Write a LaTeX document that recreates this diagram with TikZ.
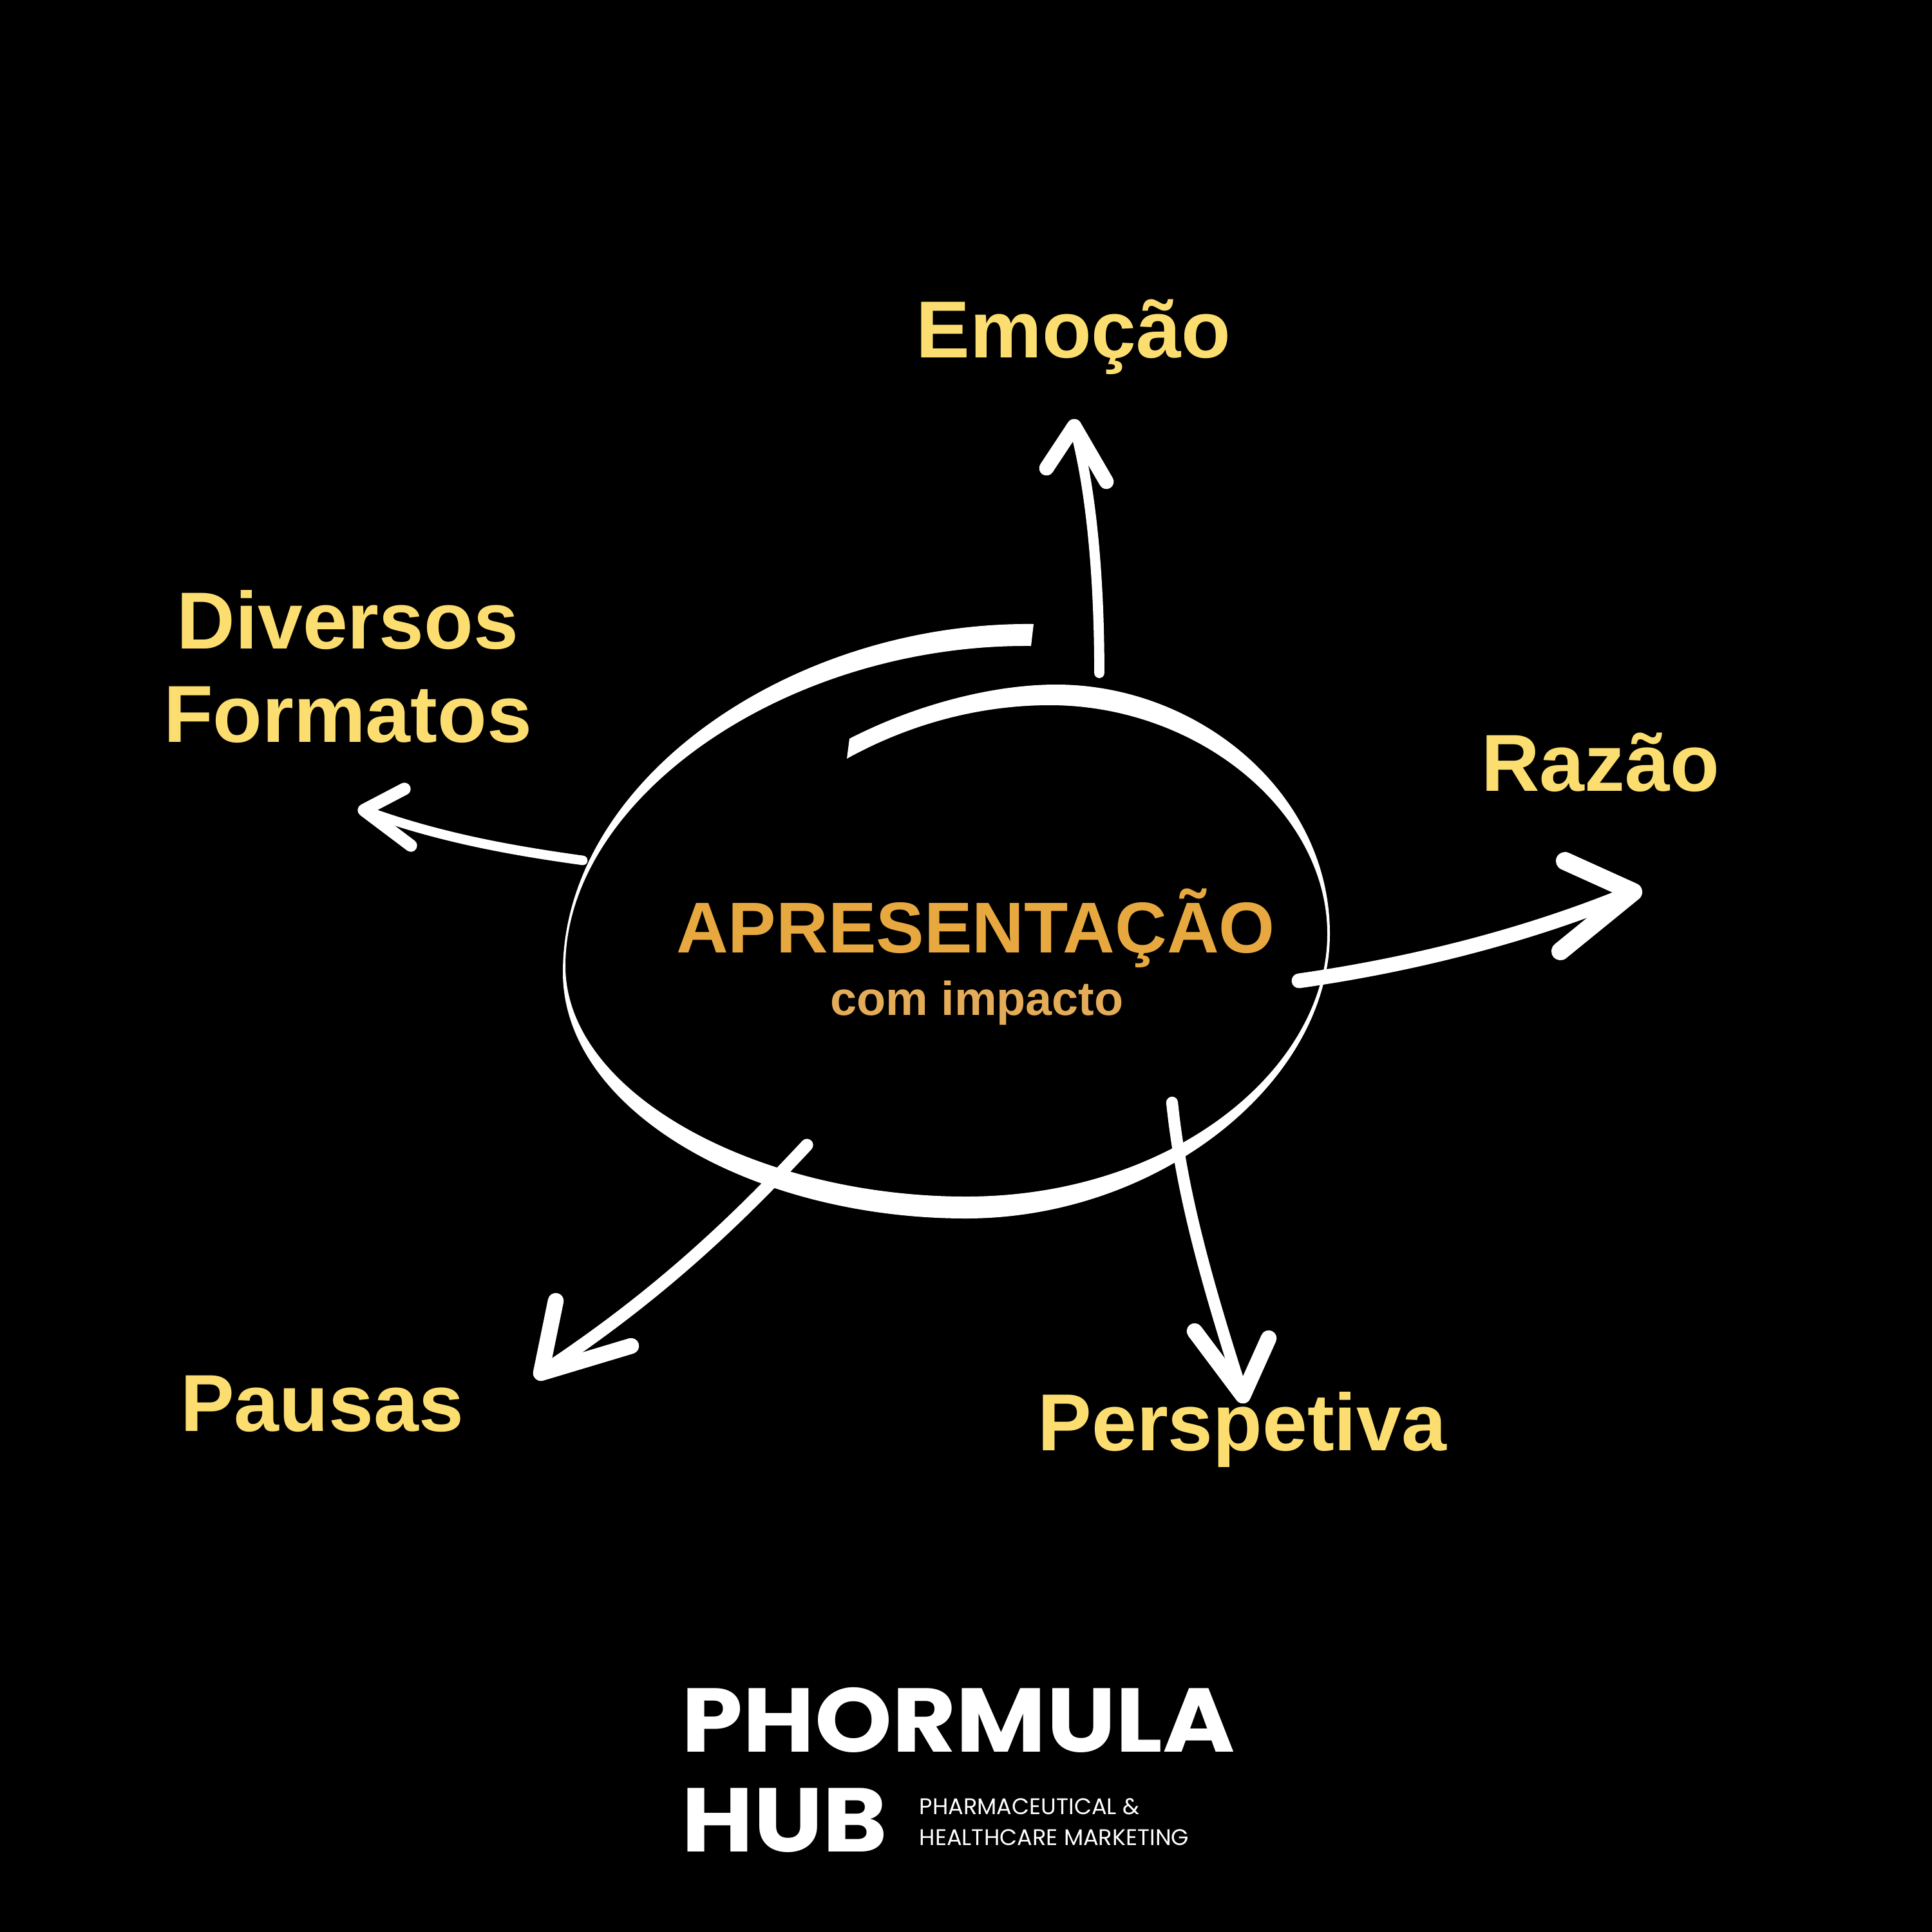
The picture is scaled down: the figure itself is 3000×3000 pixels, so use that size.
\documentclass[tikz,border=0pt]{standalone}
\usepackage{fontspec}
\setmainfont{Liberation Sans}
\newfontfamily\logofont{Poppins}
\definecolor{labelyellow}{RGB}{252,222,112}
\definecolor{titleorange}{RGB}{232,168,64}
\definecolor{subtitleorange}{RGB}{228,172,88}
\tikzset{
  lbl/.style={anchor=base,inner sep=0pt,text=labelyellow,font=\fontsize{35.7}{41}\selectfont\bfseries,align=center},
  shaft/.style={draw=white,line cap=round},
  barb/.style={draw=white,line cap=round,line join=round,line width=7pt},
  logoword/.style={anchor=base west,inner sep=0pt,text=white,font=\logofont\bfseries\fontsize{40}{46}\selectfont\addfontfeature{FakeStretch=1.085}},
  logotag/.style={anchor=base west,inner sep=0pt,text=white,font=\logofont\fontsize{10}{12}\selectfont}
}

\begin{document}
\begin{tikzpicture}[x=0.01cm,y=-0.01cm]
\fill[black] (0,0) rectangle (3000,3000);
\useasboundingbox (0,0) rectangle (3000,3000);
% spiral round the title
\fill[white] (1605,969) .. controls (1230,965) and (874,1210) .. (874,1510)
  .. controls (874,1725) and (1170,1892) .. (1500,1892)
  .. controls (1800,1892) and (2065,1680) .. (2065,1450)
  .. controls (2065,1230) and (1860,1063) .. (1640,1063)
  .. controls (1540,1063) and (1420,1095) .. (1319,1147)
  -- (1315,1178) .. controls (1420,1120) and (1530,1095) .. (1630,1095)
  .. controls (1860,1095) and (2061,1260) .. (2061,1450)
  .. controls (2061,1660) and (1820,1858) .. (1500,1858)
  .. controls (1180,1858) and (878,1700) .. (878,1500)
  .. controls (878,1240) and (1220,1000) .. (1601,1003) -- cycle;
% title
\node[lbl,text=titleorange,font=\fontsize{31.8}{36}\selectfont\bfseries] (title) at (1515,1479) {APRESENTAÇÃO};
\node[lbl,text=subtitleorange,font=\fontsize{21}{25}\selectfont\bfseries] (subtitle) at (1517,1576) {com impacto};
% labels
\node[lbl] (emocao) at (1667,555) {Emoção};
\node[lbl] (formatos) at (540,1152) {Diversos\\Formatos};
\node[lbl] (razao) at (2485,1228) {Razão};
\node[lbl] (pausas) at (500,2222) {Pausas};
\node[lbl] (perspetiva) at (1929,2252) {Perspetiva};
% arrow ends
\coordinate (e0) at (1707,1045);
\coordinate (e1) at (1668,662);
\coordinate (e2) at (1625,727);
\coordinate (e3) at (1718,748);
\coordinate (r0) at (2017,1523);
\coordinate (r1) at (2536,1385);
\coordinate (r2) at (2430,1337);
\coordinate (r3) at (2423,1477);
\coordinate (f0) at (905,1336);
\coordinate (f1) at (565,1258);
\coordinate (f2) at (628,1225);
\coordinate (f3) at (638,1313);
\coordinate (a0) at (1253,1778);
\coordinate (a1) at (840,2132);
\coordinate (a2) at (863,2020);
\coordinate (a3) at (980,2090);
\coordinate (p0) at (1820,1712);
\coordinate (p1) at (1930,2167);
\coordinate (p2) at (1855,2067);
\coordinate (p3) at (1970,2078);
% arrows
\draw[shaft,line width=4.5pt] (e0) .. controls (1707,900) and (1695,760) .. (e1);
\draw[barb,line width=6.5pt] (e2) -- (e1) -- (e3);
\draw[shaft,line width=6.5pt] (r0) .. controls (2200,1497) and (2380,1450) .. (r1);
\draw[barb,line width=8pt] (r2) -- (r1) -- (r3);
\draw[shaft,line width=4.2pt] (f0) .. controls (790,1320) and (680,1300) .. (f1);
\draw[barb,line width=5.5pt] (f2) -- (f1) -- (f3);
\draw[shaft,line width=5.5pt] (a0) .. controls (1130,1910) and (1010,2020) .. (a1);
\draw[barb] (a2) -- (a1) -- (a3);
\draw[shaft,line width=5.2pt] (p0) .. controls (1835,1860) and (1880,2010) .. (p1);
\draw[barb] (p2) -- (p1) -- (p3);
% logo
\node[logoword] (phormula) at (1058,2720) {PHORMULA};
\node[logoword] (hub) at (1058,2875) {HUB};
\node[logotag] (tag1) at (1427,2817) {PHARMACEUTICAL \&};
\node[logotag] (tag2) at (1427,2865) {HEALTHCARE MARKETING};
\end{tikzpicture}
\end{document}
